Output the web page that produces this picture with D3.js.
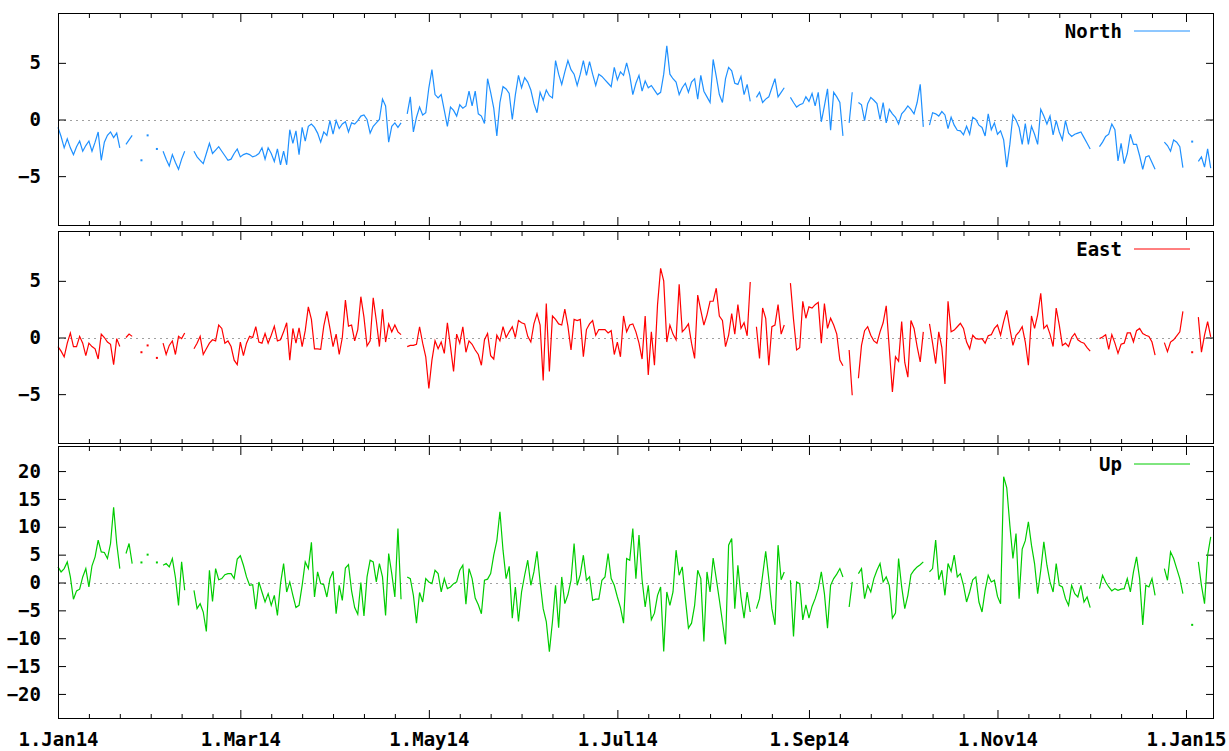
<!DOCTYPE html>
<html>
<head>
<meta charset="utf-8">
<title>North / East / Up</title>
<script src="https://cdn.jsdelivr.net/npm/d3@7"></script>
<style>
  body { margin: 0; background: #fff; }
  text { font-family: "DejaVu Sans Mono", monospace; font-weight: bold; font-size: 19px; fill: #000; }
</style>
</head>
<body>
<svg width="1229" height="751"></svg>
<script>

// daily values, index 0 = 1 Jan 2014, null = no solution that day
const north = [
  -0.7,-1.5,-2.5,-1.7,-2.5,-3.1,-2.4,-1.9,-2.8,-2.3,
  -1.9,-2.8,-2.0,-1.1,-3.6,-2.0,-1.4,-1.1,-1.6,-1.2,
  -2.5,null,-2.2,-1.8,-1.4,null,null,-3.6,null,-1.4,
  null,null,-2.6,null,-2.8,-3.5,-4.1,-3.1,-3.8,-4.4,
  -3.5,-2.8,null,null,-2.8,-3.3,-3.6,-3.9,-3.0,-2.1,
  -3.0,-2.7,-2.4,-2.8,-3.2,-3.6,-3.5,-3.0,-2.6,-3.3,
  -3.1,-3.0,-3.1,-3.3,-3.2,-3.0,-2.5,-3.5,-2.5,-3.0,
  -3.7,-2.6,-4.0,-2.8,-4.0,-0.9,-2.1,-1.0,-3.1,-0.7,
  -1.9,-0.6,-0.4,-0.7,-1.2,-2.0,-1.1,-1.4,-0.1,-1.3,
  -0.1,-0.8,-0.4,-0.2,-1.1,-0.3,-0.4,-0.1,0.3,0.4,
  0.0,-1.2,-0.6,-0.3,0.0,1.8,1.2,-2.0,-0.6,-0.3,
  -0.7,-0.3,null,0.5,2.0,-1.1,0.2,1.1,0.4,0.6,
  2.8,4.4,2.2,1.9,2.2,0.8,-0.6,1.1,0.8,0.3,
  1.3,1.0,1.2,2.5,1.2,2.5,0.5,0.3,-0.35,3.6,
  2.4,1.0,-1.45,1.5,2.9,2.7,2.3,0.0,2.2,3.9,
  2.8,3.7,3.3,2.6,1.4,0.6,2.4,1.7,2.6,2.1,
  1.9,5.2,4.0,3.1,4.2,5.2,4.4,4.0,3.0,4.0,
  5.2,3.9,5.1,4.0,3.0,4.0,3.8,3.5,3.2,2.9,
  4.6,3.5,4.2,3.9,5.0,3.9,2.2,3.2,3.9,2.5,
  3.4,2.8,3.0,2.6,2.2,2.4,4.0,6.5,4.0,3.6,
  3.3,2.2,2.8,3.2,2.4,3.3,3.6,1.8,3.9,2.5,
  2.0,1.5,5.3,3.8,2.2,1.5,3.6,4.6,4.3,3.2,
  3.1,3.8,2.2,3.1,1.6,null,1.95,2.4,1.5,1.8,
  2.0,2.8,3.6,2.0,2.4,2.8,null,1.95,1.5,1.1,
  1.3,1.4,2.0,1.6,2.3,1.2,2.4,-0.2,1.2,2.7,
  -0.95,2.4,2.0,1.5,-1.45,null,-0.3,2.4,null,1.5,
  1.3,-0.1,1.4,1.95,1.7,1.4,0.0,1.5,-0.3,0.9,
  0.5,0.2,-0.4,0.5,0.8,1.2,0.9,0.5,1.5,3.1,
  -0.65,null,-0.5,0.6,0.5,0.3,0.7,0.4,-0.8,0.2,
  -0.5,-0.95,-1.0,-1.35,-0.6,-1.3,0.2,0.0,-0.5,-0.7,
  -1.45,0.5,-0.9,-0.3,-1.3,-1.0,-1.8,-4.2,-2.2,0.4,
  -0.05,-0.7,-2.2,-0.35,-2.2,-0.6,-1.3,-2.2,0.9,0.3,
  -0.4,0.3,-1.35,-0.1,-1.1,-1.8,-0.1,-1.2,-1.5,-1.3,
  -1.2,-1.1,-1.6,-2.1,-2.6,null,null,-2.4,-2.0,-1.5,
  -1.3,-0.4,-0.9,-3.65,-2.1,-3.9,-3.0,-1.3,-2.2,-2.2,
  -3.2,-4.4,-3.3,-3.2,-3.8,-4.4,null,null,-2.0,-2.3,
  -2.8,-1.8,-2.0,-2.4,-4.25,null,null,-1.95,null,-3.7,
  -3.3,-4.2,-2.6,-4.3
];

const east = [
  -0.8,-1.2,-1.7,-0.5,0.4,-0.8,-0.8,0.1,-0.5,-1.6,
  -0.5,-0.8,-1.0,-1.9,0.3,0.0,-0.4,-0.6,-2.4,-0.1,
  -0.8,null,0.0,0.3,0.1,null,null,-1.3,null,-0.7,
  null,null,-1.8,null,-0.5,-1.5,-0.7,-0.3,-1.5,0.1,
  -0.1,0.4,null,null,-1.0,-0.5,0.1,-1.5,-1.0,-0.5,
  -0.2,-0.3,1.1,0.8,-0.5,-0.3,-0.8,-2.0,-2.4,-0.4,
  -1.6,-0.5,0.1,0.0,0.95,-0.4,-0.5,0.35,-0.5,0.2,
  1.0,-0.3,-0.2,0.5,1.3,-2.0,0.8,-0.5,0.85,-0.8,
  0.6,2.7,1.6,-1.0,-1.0,-1.05,1.0,2.3,0.8,-0.8,
  0.3,-1.5,0.0,3.3,1.0,1.1,-0.3,0.7,3.6,1.8,
  -0.75,-0.3,3.5,1.5,-0.8,2.5,-0.4,1.2,0.5,1.1,
  0.5,0.25,null,-0.8,-0.7,-0.7,-0.6,0.95,-0.5,-1.7,
  -4.5,-2.0,-0.3,-1.0,-0.4,-1.4,1.3,-0.8,-3.0,0.3,
  -0.5,0.95,-1.3,-0.3,-0.6,-1.1,-1.5,-2.45,-0.2,0.35,
  -1.6,-1.9,0.2,-0.3,0.95,0.0,0.5,0.95,0.0,1.5,
  1.3,1.2,0.1,-0.4,1.2,2.1,1.1,-3.8,3.0,-3.0,
  1.9,1.6,1.2,1.1,2.5,1.0,-1.1,1.6,1.5,1.6,
  -1.7,0.7,1.2,1.5,0.2,0.7,0.7,0.7,0.4,0.6,
  -1.5,-0.4,-1.7,1.9,0.5,1.1,1.2,0.5,-0.5,-1.9,
  1.9,-3.3,0.5,-2.45,2.9,6.1,5.0,-0.4,1.1,0.3,
  -0.2,4.7,0.5,0.8,1.2,-0.5,-1.85,3.75,2.4,1.1,
  2.0,3.2,3.2,4.35,1.9,1.5,-0.8,0.2,2.1,0.3,
  2.9,0.8,1.3,0.15,4.9,null,0.95,-1.85,2.6,1.7,
  -2.45,0.95,1.1,2.9,0.3,1.1,null,4.8,1.6,-1.1,
  -0.9,3.2,1.7,2.7,2.6,2.9,3.1,-0.5,3.0,0.8,
  1.7,1.1,0.3,-2.0,-2.5,null,-1.1,-5.1,null,-3.6,
  -0.7,0.6,0.95,0.2,-0.3,-0.5,0.5,1.3,2.8,-1.0,
  -4.8,-1.7,-2.1,1.4,-2.2,-3.5,1.5,0.8,-0.8,-2.15,
  0.5,null,1.2,-0.5,-2.3,0.5,-0.9,-4.1,3.2,0.5,
  0.65,0.95,1.25,0.8,-0.4,-1.0,0.2,-0.1,-0.15,-0.1,
  -0.5,0.15,0.25,0.8,1.1,0.2,1.4,2.4,0.8,-0.7,
  0.2,0.5,0.95,-0.4,-2.45,1.9,0.8,2.0,3.9,0.8,
  1.1,0.3,-0.8,2.6,1.1,-0.7,-0.5,-0.8,0.0,0.35,
  -0.2,-0.4,-0.5,-0.9,-1.2,null,null,-0.1,0.05,0.25,
  -1.05,0.25,-0.5,-1.4,-0.6,-0.5,0.4,0.4,-0.4,0.6,
  0.8,0.35,0.2,0.1,-0.4,-1.55,null,null,-0.45,-1.25,
  -0.4,-0.2,0.15,0.5,2.3,null,null,-1.3,null,1.8,
  -1.3,0.2,1.4,0.05
];

const up = [
  2.8,1.9,2.5,3.7,1.0,-3.0,-1.5,-1.2,1.0,2.5,
  -0.8,3.0,4.6,7.6,5.5,5.4,4.3,7.0,13.5,7.0,
  2.5,null,5.2,7.0,3.4,null,null,3.6,null,5.0,
  null,null,3.6,null,3.1,3.4,2.8,4.3,0.9,-4.1,
  3.7,-1.4,null,null,-1.4,-4.7,-3.8,-5.3,-8.8,2.2,
  -3.4,2.5,0.5,0.7,1.4,1.6,1.6,0.7,4.2,4.8,
  3.1,1.0,-0.5,-0.4,-4.8,0.1,-1.7,-3.5,-2.0,-4.1,
  -2.3,-5.9,-0.2,3.4,-1.7,0.1,-2.3,-4.5,-4.1,-0.5,
  3.7,2.5,7.2,-2.6,1.9,-0.2,-0.4,-2.6,0.7,2.0,
  -5.6,-0.5,-3.2,2.6,3.2,-1.5,-4.5,-5.7,0.0,-6.0,
  1.0,4.0,3.7,0.1,3.4,1.0,-5.9,5.2,1.6,-2.6,
  9.7,-3.0,null,1.0,0.7,-2.3,-7.3,-1.8,-3.5,0.7,
  0.1,-0.2,2.2,1.6,-1.7,0.7,-1.1,-0.8,-0.2,0.1,
  2.2,3.1,-3.9,2.5,0.7,-2.8,-4.0,-5.6,0.4,0.6,
  1.6,4.9,7.5,12.7,5.8,0.7,2.9,-6.4,-0.8,-7.0,
  -1.7,1.3,4.0,-0.5,1.9,5.6,0.1,-4.7,-7.0,-12.4,
  -7.0,-0.5,-8.1,1.0,-3.8,-2.2,0.4,7.0,-0.5,1.4,
  4.9,0.4,1.0,-3.2,-3.0,-3.0,0.4,1.0,5.2,0.7,
  -0.5,-2.6,-4.5,-7.3,4.3,4.0,9.7,0.7,8.5,0.5,
  -4.4,-0.5,-6.7,-5.5,-2.3,-0.8,-12.4,-1.7,-4.1,-1.7,
  5.8,1.3,2.8,-2.9,-8.2,-7.3,-4.1,2.2,0.7,-10.6,
  1.9,-1.7,4.4,0.7,-3.1,-7.0,-11.1,6.7,7.9,-4.7,
  3.1,-2.6,-6.4,-1.7,-5.3,null,-4.7,-2.9,1.3,5.6,
  0.7,-4.7,-7.6,6.7,0.5,1.9,null,0.4,-9.7,0.1,
  -0.2,-6.7,-4.0,-6.4,-4.3,-2.9,-1.1,1.9,-2.0,-8.2,
  -0.5,0.7,1.5,2.5,1.0,null,-4.4,0.1,null,1.6,
  2.5,-2.9,-0.5,-1.7,0.7,2.2,3.4,0.1,1.0,-0.5,
  -6.4,-5.5,4.3,-0.8,-4.7,-2.3,1.4,2.2,2.8,3.2,
  3.7,null,1.9,2.5,7.6,0.5,2.2,-2.3,3.4,2.0,
  4.9,1.0,1.6,-0.5,-3.5,-1.7,0.5,1.0,-3.5,-5.3,
  -1.4,1.3,0.1,0.4,-2.5,-3.8,19.0,17.0,10.3,4.3,
  8.8,-2.9,6.0,7.5,10.9,6.7,3.4,-2.0,2.2,7.3,
  3.1,0.1,-1.7,3.4,-0.5,-0.8,-2.9,-4.1,-0.5,-2.0,
  -2.6,-0.5,-3.5,-2.6,-4.5,null,null,-1.1,1.3,0.1,
  -0.8,-1.5,-1.1,-1.4,-1.2,-1.1,0.7,-1.7,1.9,4.6,
  0.7,-7.6,-0.5,-0.8,0.7,-2.3,null,null,2.5,0.4,
  5.5,4.3,2.5,0.7,-2.0,null,null,-7.6,null,3.7,
  -0.5,-3.8,4.9,8.2
];

const seriesNames = ["North", "East", "Up"];
const seriesColors = ["#1e90ff", "#ff0000", "#00cc00"];
const yTicksNE = [-5, 0, 5];
const yTicksUp = [-20, -15, -10, -5, 0, 5, 10, 15, 20];
const majorDates = [
  new Date(2014, 0, 1), new Date(2014, 2, 1), new Date(2014, 4, 1), new Date(2014, 6, 1),
  new Date(2014, 8, 1), new Date(2014, 10, 1), new Date(2015, 0, 1)
];
const majorLabels = ["1.Jan14", "1.Mar14", "1.May14", "1.Jul14", "1.Sep14", "1.Nov14", "1.Jan15"];

const start = new Date(2014, 0, 1);
const end = new Date(2015, 0, 10, 1, 30);

// minor tics every 10 days after each labelled tic
let minorDates = [];
majorDates.forEach((m, i) => {
  let next = majorDates[i + 1] || end;
  for (let k = 1; ; k++) {
    let d = d3.timeDay.offset(m, 10 * k);
    if (d3.timeDay.count(d, next) < 5) break;
    minorDates.push(d);
  }
});

const L = 58, R = 1214;
let x = d3.scaleTime().domain([start, end]).range([L, R]);

const panels = [
  { values: north, top: 13,  bottom: 226, ext: 9.4,  ticks: yTicksNE },
  { values: east,  top: 231, bottom: 444, ext: 9.4,  ticks: yTicksNE },
  { values: up,    top: 446, bottom: 719, ext: 24.5, ticks: yTicksUp }
];

let svg = d3.select('svg');

panels.forEach((p, i) => {
  let y = d3.scaleLinear().domain([-p.ext, p.ext]).range([p.bottom, p.top]);
  let g = svg.append('g');
  let data = p.values.map((v, k) => ({ date: d3.timeDay.offset(start, k), v: v }));

  // zero line
  g.append('line')
    .attr('x1', L).attr('x2', R)
    .attr('y1', Math.round(y(0)) + 0.5).attr('y2', Math.round(y(0)) + 0.5)
    .style('stroke', '#a0a0a0')
    .style('stroke-dasharray', '2,4');

  // y tics, left with labels, right mirrored
  g.append('g').attr('transform', 'translate(' + L + ',0)')
    .call(d3.axisLeft(y).tickValues(p.ticks).tickSize(-8).tickPadding(17).tickFormat(d3.format('d')));
  g.append('g').attr('transform', 'translate(' + R + ',0)')
    .call(d3.axisRight(y).tickValues(p.ticks).tickSize(-8).tickFormat(''));

  // x tics on top and bottom
  g.append('g').attr('transform', 'translate(0,' + p.top + ')')
    .call(d3.axisTop(x).tickValues(majorDates).tickSize(-9).tickFormat(''));
  g.append('g').attr('transform', 'translate(0,' + p.top + ')')
    .call(d3.axisTop(x).tickValues(minorDates).tickSize(-5).tickFormat(''));
  g.append('g').attr('transform', 'translate(0,' + p.bottom + ')')
    .call(d3.axisBottom(x).tickValues(majorDates).tickSize(-9).tickPadding(14)
      .tickFormat((d, k) => i === 2 ? majorLabels[k] : ''));
  g.append('g').attr('transform', 'translate(0,' + p.bottom + ')')
    .call(d3.axisBottom(x).tickValues(minorDates).tickSize(-5).tickFormat(''));

  g.selectAll('.domain').remove();
  g.selectAll('.tick line').style('stroke', '#000');
  g.selectAll('.tick text').style('font-size', null).style('font-family', null);

  // the series
  let line = d3.line()
    .defined(d => d.v !== null)
    .x(d => x(d.date))
    .y(d => y(d.v));
  g.append('path')
    .datum(data)
    .attr('d', line)
    .style('fill', 'none')
    .style('stroke', seriesColors[i])
    .style('stroke-width', 1.2);

  // single days with no neighbours get a dot
  let lonely = data.filter((d, k) => d.v !== null &&
    (k === 0 || data[k - 1].v === null) && (k === data.length - 1 || data[k + 1].v === null));
  g.selectAll('rect.dot').data(lonely).enter().append('rect')
    .attr('class', 'dot')
    .attr('x', d => x(d.date) - 1).attr('y', d => y(d.v) - 1)
    .attr('width', 2).attr('height', 2)
    .style('fill', seriesColors[i]);

  // border
  g.append('rect')
    .attr('x', L + 0.5).attr('y', p.top + 0.5)
    .attr('width', R - L - 1).attr('height', p.bottom - p.top - 1)
    .style('fill', 'none')
    .style('stroke', '#000');

  // key
  let ky = p.top + 18;
  g.append('text')
    .attr('x', 1122).attr('y', ky).attr('dy', '0.35em')
    .attr('text-anchor', 'end')
    .text(seriesNames[i]);
  g.append('line')
    .attr('x1', 1134).attr('x2', 1190)
    .attr('y1', ky).attr('y2', ky)
    .style('stroke', seriesColors[i]);
});

</script>
</body>
</html>
